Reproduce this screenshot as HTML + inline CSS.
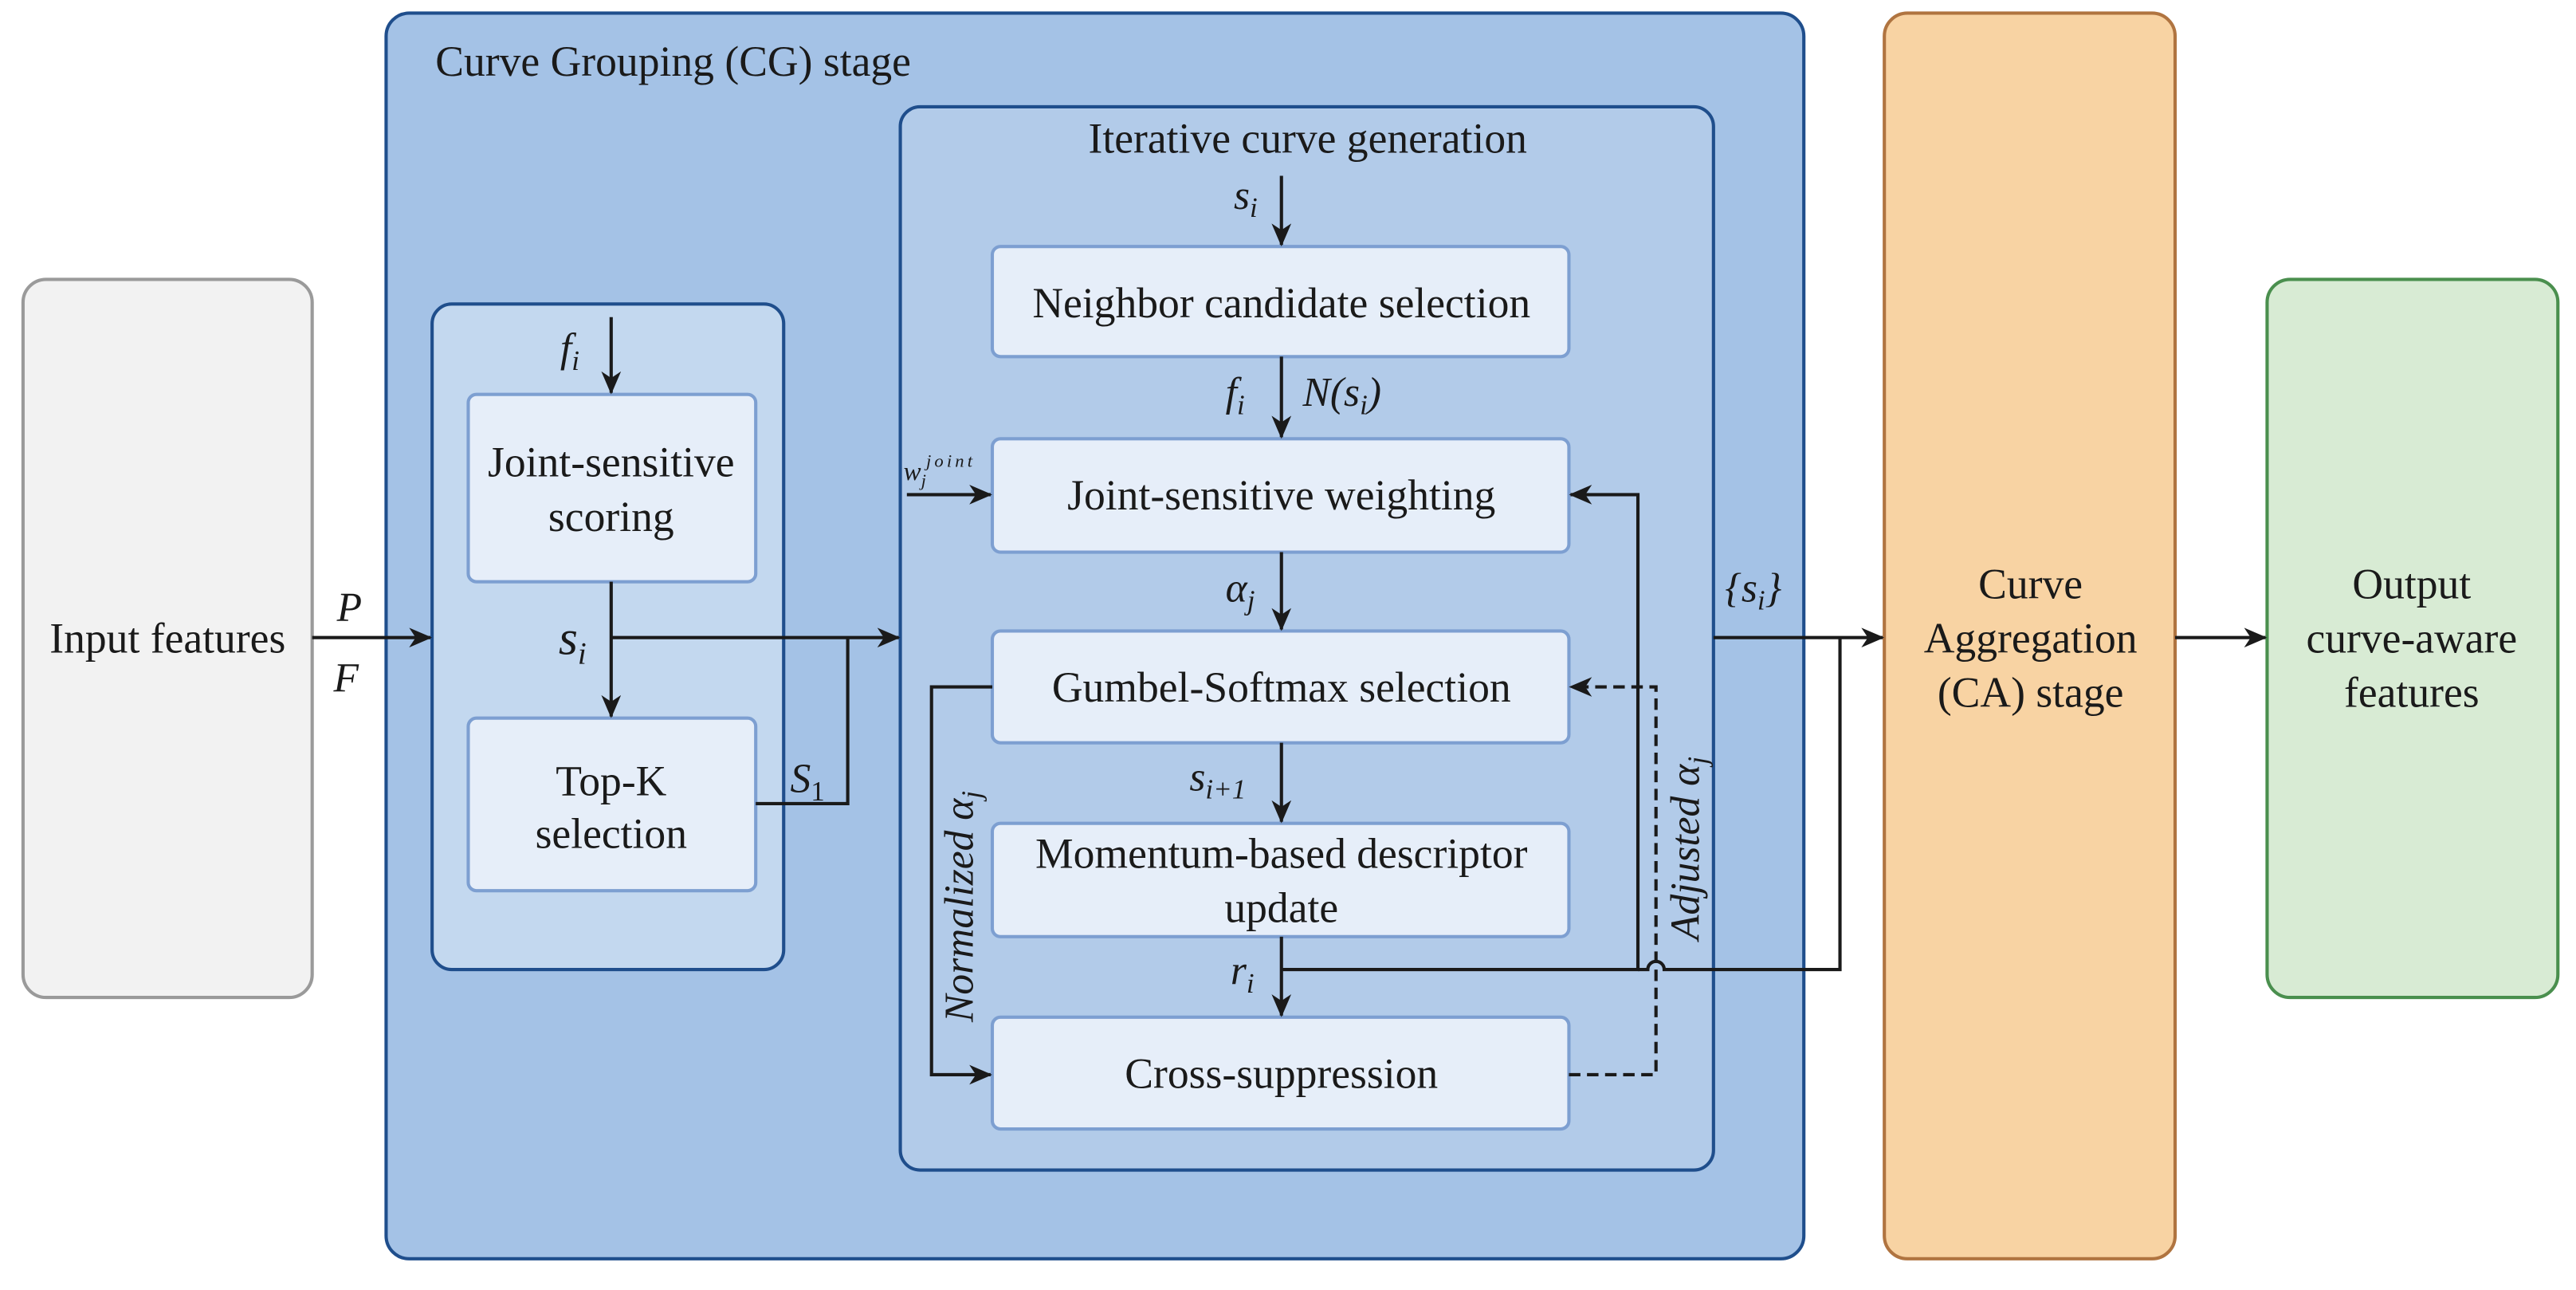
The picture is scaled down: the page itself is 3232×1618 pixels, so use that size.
<!DOCTYPE html>
<html><head><meta charset="utf-8"><style>
html,body{margin:0;padding:0;background:#fff;}
svg{display:block;}
text{font-family:"Liberation Serif","DejaVu Serif",serif;fill:#1a1a1a;}
.b{font-size:26px;text-anchor:middle;}
.m{font-style:italic;font-size:25px;}
</style></head><body>
<svg width="3232" height="1618" viewBox="0 0 1568 785" xmlns="http://www.w3.org/2000/svg" font-family="Liberation Serif, serif">
<defs>
<marker id="a" markerWidth="14" markerHeight="12" refX="13" refY="6" orient="auto" markerUnits="userSpaceOnUse">
<path d="M0,0 L14,6 L0,12 L4,6 Z" fill="#1a1a1a"/></marker>
</defs>
<rect x="14" y="170" width="176" height="437" rx="14" fill="#f2f2f2" stroke="#9a9a9a" stroke-width="2"/>
<text class="b" x="102" y="397">Input features</text>
<rect x="235" y="8" width="863" height="758" rx="14" fill="#a4c2e6" stroke="#1f4e8c" stroke-width="2"/>
<text x="265" y="46" style="font-size:26px">Curve Grouping (CG) stage</text>
<rect x="263" y="185" width="214" height="405" rx="12" fill="#c3d8ef" stroke="#1f4e8c" stroke-width="2"/>
<rect x="285" y="240" width="175" height="114" rx="5" fill="#e6eef9" stroke="#7d9fd1" stroke-width="2"/>
<text class="b" x="372" y="290">Joint-sensitive</text>
<text class="b" x="372" y="323">scoring</text>
<rect x="285" y="437" width="175" height="105" rx="5" fill="#e6eef9" stroke="#7d9fd1" stroke-width="2"/>
<text class="b" x="372" y="484">Top-K</text>
<text class="b" x="372" y="516">selection</text>
<rect x="548" y="65" width="495" height="647" rx="12" fill="#b2cbe9" stroke="#1f4e8c" stroke-width="2"/>
<text class="b" x="796" y="93">Iterative curve generation</text>
<g fill="#e6eef9" stroke="#7d9fd1" stroke-width="2">
<rect x="604" y="150" width="351" height="67" rx="5"/>
<rect x="604" y="267" width="351" height="69" rx="5"/>
<rect x="604" y="384" width="351" height="68" rx="5"/>
<rect x="604" y="501" width="351" height="69" rx="5"/>
<rect x="604" y="619" width="351" height="68" rx="5"/>
</g>
<text class="b" x="780" y="193">Neighbor candidate selection</text>
<text class="b" x="780" y="310">Joint-sensitive weighting</text>
<text class="b" x="780" y="427">Gumbel-Softmax selection</text>
<text class="b" x="780" y="528">Momentum-based descriptor</text>
<text class="b" x="780" y="561">update</text>
<text class="b" x="780" y="662">Cross-suppression</text>
<rect x="1147" y="8" width="177" height="758" rx="14" fill="#f8d3a3" stroke="#b07440" stroke-width="2"/>
<text class="b" x="1236" y="364">Curve</text>
<text class="b" x="1236" y="397">Aggregation</text>
<text class="b" x="1236" y="430">(CA) stage</text>
<rect x="1380" y="170" width="177" height="437" rx="14" fill="#d8ebd4" stroke="#4a8f4e" stroke-width="2"/>
<text class="b" x="1468" y="364">Output</text>
<text class="b" x="1468" y="397">curve-aware</text>
<text class="b" x="1468" y="430">features</text>
<g stroke="#1a1a1a" stroke-width="2" fill="none">
<line x1="190" y1="388" x2="262" y2="388" marker-end="url(#a)"/>
<line x1="372" y1="193" x2="372" y2="239" marker-end="url(#a)"/>
<line x1="372" y1="354" x2="372" y2="436" marker-end="url(#a)"/>
<line x1="372" y1="388" x2="547" y2="388" marker-end="url(#a)"/>
<polyline points="460,489 516,489 516,388"/>
<line x1="780" y1="107" x2="780" y2="149" marker-end="url(#a)"/>
<line x1="780" y1="217" x2="780" y2="266" marker-end="url(#a)"/>
<line x1="780" y1="336" x2="780" y2="383" marker-end="url(#a)"/>
<line x1="780" y1="452" x2="780" y2="500" marker-end="url(#a)"/>
<line x1="780" y1="570" x2="780" y2="618" marker-end="url(#a)"/>
<line x1="552" y1="301" x2="603" y2="301" marker-end="url(#a)"/>
<polyline points="604,418 567,418 567,654 603,654" marker-end="url(#a)"/>
<polyline points="780,590 997,590 997,301 956,301" marker-end="url(#a)"/>
<path d="M997,590 L1003,590 A5,5 0 0 1 1013,590 L1120,590 L1120,388"/>
<line x1="1043" y1="388" x2="1146" y2="388" marker-end="url(#a)"/>
<line x1="1324" y1="388" x2="1379" y2="388" marker-end="url(#a)"/>
<polyline points="955,654 1008,654 1008,418 956,418" stroke-dasharray="7,4" marker-end="url(#a)"/>
</g>
<text class="m" x="205" y="378">P</text>
<text class="m" x="203" y="421">F</text>
<text class="m" x="341" y="220">f<tspan font-size="17" dy="5">i</tspan></text>
<text class="m" x="340" y="398" style="font-size:30px">s<tspan font-size="19" dy="6">i</tspan></text>
<text class="m" x="481" y="482">S<tspan font-size="17" dy="5" font-style="normal">1</tspan></text>
<text class="m" x="751" y="127">s<tspan font-size="17" dy="5">i</tspan></text>
<text class="m" x="746" y="247">f<tspan font-size="17" dy="5">i</tspan></text>
<text class="m" x="793" y="247">N(s<tspan font-size="17" dy="5">i</tspan><tspan dy="-5">)</tspan></text>
<text class="m" x="550" y="292" style="font-size:16px">w<tspan font-size="11" dy="4">j</tspan><tspan font-size="11" dy="-12" letter-spacing="2">joint</tspan></text>
<text class="m" x="746" y="366">α<tspan font-size="17" dy="5">j</tspan></text>
<text class="m" x="724" y="481">s<tspan font-size="17" dy="5">i+1</tspan></text>
<text class="m" x="749" y="599">r<tspan font-size="17" dy="5">i</tspan></text>
<text class="m" x="1050" y="366">{s<tspan font-size="17" dy="5">i</tspan><tspan dy="-5">}</tspan></text>
<text class="m" transform="translate(592,622) rotate(-90)">Normalized α<tspan font-size="17" dy="5">j</tspan></text>
<text class="m" transform="translate(1034,572) rotate(-90)">Adjusted α<tspan font-size="17" dy="5">j</tspan></text>
</svg>
</body></html>
